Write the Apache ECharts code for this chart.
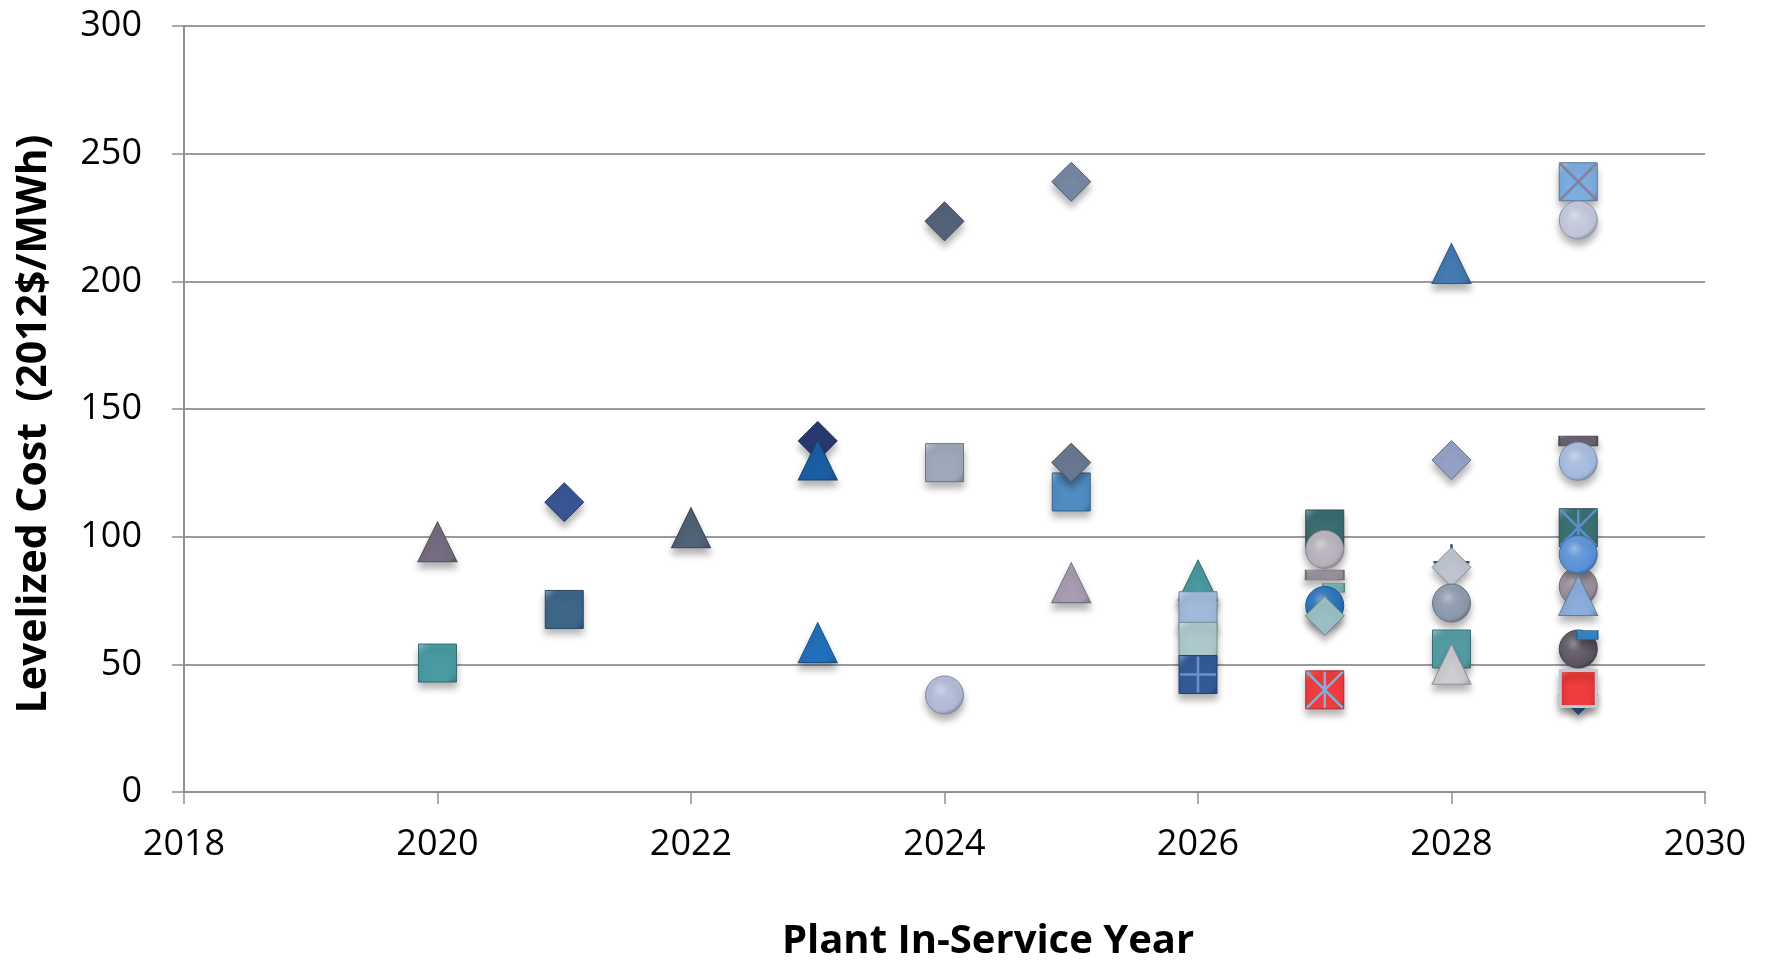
<!DOCTYPE html>
<html>
<head>
<meta charset="utf-8">
<title>Levelized Cost by Plant In-Service Year</title>
<script src="https://cdn.jsdelivr.net/npm/echarts@6/dist/echarts.min.js"></script>
<style>
  html, body { margin: 0; padding: 0; background: #ffffff; }
  #chart { width: 1765px; height: 960px; }
</style>
</head>
<body>
<div id="chart"></div>
<script>
// ---- data -----------------------------------------------------------
// Plant in-service year and levelized cost (2012$/MWh) of each project
const years = [
  2020, 2020, 2021, 2021, 2022, 2023, 2023, 2023,
  2024, 2024, 2024, 2025, 2025, 2025, 2025,
  2026, 2026, 2026, 2026, 2026, 2026,
  2027, 2027, 2027, 2027, 2027, 2027, 2027, 2027,
  2028, 2028, 2028, 2028, 2028, 2028, 2028,
  2029, 2029, 2029, 2029, 2029, 2029, 2029, 2029, 2029, 2029, 2029, 2029, 2029, 2029
];
const costs = [
  98, 50.5, 113.5, 71.5, 103.5, 137.5, 130, 58.5,
  223.5, 129, 38, 239, 117.5, 129, 82,
  75, 83, 71, 59, 46, 46,
  103, 95, 85, 80, 73, 69, 40, 40,
  207, 130, 90, 88, 74, 56, 50,
  239, 239, 224, 137.5, 129.5, 103.5, 103.5, 80.5, 93, 77, 56, 61.5, 38, 40.5
];
const yearTicks = [2018, 2020, 2022, 2024, 2026, 2028, 2030];
const costTicks = [0, 50, 100, 150, 200, 250, 300];

// ---- marker styles (one per project, same order as the data) ----------
const markerShapes = [
  'triangle', 'square', 'diamond', 'square', 'triangle', 'diamond', 'triangle', 'triangle',
  'diamond', 'square', 'circle', 'diamond', 'square', 'diamond', 'triangle',
  'diamond', 'triangle', 'square', 'square', 'square', 'plus',
  'square', 'circle', 'dash', 'shortdash', 'circle', 'diamond', 'square', 'star',
  'triangle', 'diamond', 'plus', 'diamond', 'circle', 'square', 'triangle',
  'square', 'x', 'circle', 'dash', 'circle', 'square', 'star', 'circle', 'circle', 'triangle', 'circle', 'shortdash', 'diamond', 'redsquare'
];
const markerColors = [
  '#776d82', '#4a9aa1', '#3a5594', '#3d6689', '#526377', '#283a70', '#1c5ea6', '#2270bd',
  '#53637a', '#9fa8b9', '#b0b8d6', '#7587a3', '#4f8cc2', '#697891', '#a89db2',
  '#2c4576', '#4a9aa1', '#a0bada', '#adc8cb', '#325b95', '#6d8fd0',
  '#3a6c70', '#b5b0ba', '#96919c', '#77afb5', '#2570bb', '#99bfc4', '#f03c3c', '#7fb0de',
  '#457bb4', '#93a1c6', '#34497a', '#bec4cf', '#8998ab', '#549ca4', '#cdcdd4',
  '#7badde', '#8680a2', '#c0c5d9', '#686272', '#a3b9de', '#3b7073', '#5b8fcc', '#968c9b', '#5790d6', '#8daedb', '#5a5462', '#3584c0', '#365aa2', '#f03c3c'
];

// ---- colour helpers ---------------------------------------------------
function shade(hex, amt) {
  const n = parseInt(hex.slice(1), 16);
  let r = (n >> 16) & 255, g = (n >> 8) & 255, b = n & 255;
  const f = (c) => amt >= 0 ? Math.round(c + (255 - c) * amt) : Math.round(c * (1 + amt));
  r = f(r); g = f(g); b = f(b);
  return 'rgb(' + r + ',' + g + ',' + b + ')';
}
// flat face with a light upper-left rim and a darker lower-right rim
function bevelFill(hex) {
  return new echarts.graphic.LinearGradient(0, 0, 1, 1, [
    { offset: 0, color: shade(hex, 0.45) },
    { offset: 0.12, color: shade(hex, 0.12) },
    { offset: 0.2, color: hex },
    { offset: 0.85, color: hex },
    { offset: 1, color: shade(hex, -0.25) }
  ]);
}
function ballFill(hex) {
  return new echarts.graphic.RadialGradient(0.4, 0.35, 0.7, [
    { offset: 0, color: shade(hex, 0.4) },
    { offset: 0.3, color: shade(hex, 0.1) },
    { offset: 0.8, color: hex },
    { offset: 1, color: shade(hex, -0.3) }
  ]);
}

const SZ = 38;
const shadow = { shadowBlur: 7, shadowOffsetY: 6, shadowColor: 'rgba(0,0,0,0.3)' };

const linePaths = {
  plus: 'path://M5,0L5,10M0,5L10,5',
  x: 'path://M0,0L10,10M10,0L0,10',
  star: 'path://M0,0L10,10M10,0L0,10M5,0L5,10'
};

function solid(style) {
  return Object.assign({ opacity: 1 }, style);
}

function markerSpec(shape, color) {
  if (linePaths[shape]) {
    return {
      symbol: linePaths[shape], symbolSize: 36, symbolOffset: [0, 0],
      itemStyle: solid({ color: 'rgba(0,0,0,0)', borderColor: color, borderWidth: 2.5 })
    };
  }
  if (shape === 'circle') {
    return {
      symbol: 'circle', symbolSize: SZ, symbolOffset: [0, 0],
      itemStyle: solid(Object.assign({ color: ballFill(color), borderColor: shade(color, -0.25), borderWidth: 1 }, shadow))
    };
  }
  if (shape === 'dash') {
    return {
      symbol: 'rect', symbolSize: [SZ, 10], symbolOffset: [0, 0],
      itemStyle: solid(Object.assign({ color: bevelFill(color), borderColor: shade(color, -0.25), borderWidth: 1 }, shadow))
    };
  }
  if (shape === 'shortdash') {
    return {
      symbol: 'rect', symbolSize: [21, 9], symbolOffset: [9, 0],
      itemStyle: solid(Object.assign({ color: bevelFill(color), borderColor: shade(color, -0.25), borderWidth: 1 }, shadow))
    };
  }
  if (shape === 'redsquare') {
    return {
      symbol: 'rect', symbolSize: SZ - 2, symbolOffset: [0, 0],
      itemStyle: solid(Object.assign({ color: bevelFill(color), borderColor: '#c3c8d2', borderWidth: 3 }, shadow))
    };
  }
  const sym = shape === 'square' ? 'rect' : shape;
  let size = SZ;
  if (shape === 'triangle') size = [39, 40];
  if (shape === 'diamond') size = [39, 39];
  return {
    symbol: sym, symbolSize: size, symbolOffset: [0, 0],
    itemStyle: solid(Object.assign({ color: bevelFill(color), borderColor: shade(color, -0.3), borderWidth: 1 }, shadow))
  };
}

// one scatter series per project; later projects are painted over earlier ones
const series = years.map((yr, i) => {
  const spec = markerSpec(markerShapes[i], markerColors[i]);
  return {
    type: 'scatter',
    name: 'Project ' + (i + 1),
    z: 2,
    data: [[yr, costs[i]]],
    symbol: spec.symbol,
    symbolSize: spec.symbolSize,
    symbolOffset: spec.symbolOffset,
    itemStyle: spec.itemStyle,
    emphasis: { disabled: true },
    animation: false
  };
});

const FONT = '"Open Sans", "Noto Sans", "DejaVu Sans", sans-serif';

const chart = echarts.init(document.getElementById('chart'), null, { renderer: 'canvas' });
chart.setOption({
  backgroundColor: '#ffffff',
  animation: false,
  grid: { left: 184, right: 60, top: 26, bottom: 168, containLabel: false },
  xAxis: {
    type: 'value',
    min: yearTicks[0],
    max: yearTicks[yearTicks.length - 1],
    interval: yearTicks[1] - yearTicks[0],
    axisLine: { show: true, lineStyle: { color: '#8f8f8f', width: 2 } },
    axisTick: { show: true, length: 12, inside: false, lineStyle: { color: '#8f8f8f', width: 1.5 } },
    splitLine: { show: false },
    axisLabel: { margin: 35, color: '#000000', fontSize: 36, fontFamily: FONT, formatter: (v) => String(v) }
  },
  yAxis: {
    type: 'value',
    min: costTicks[0],
    max: costTicks[costTicks.length - 1],
    interval: costTicks[1] - costTicks[0],
    axisLine: { show: true, lineStyle: { color: '#8f8f8f', width: 2 } },
    axisTick: { show: true, length: 12, inside: false, lineStyle: { color: '#8f8f8f', width: 1.5 } },
    splitLine: { show: true, lineStyle: { color: '#9b9b9b', width: 2 } },
    axisLabel: { margin: 42, color: '#000000', fontSize: 36, fontFamily: FONT }
  },
  graphic: [
    {
      type: 'text',
      x: 34, y: 424,
      rotation: Math.PI / 2,
      style: {
        text: 'Levelized Cost  (2012$/MWh)',
        fill: '#000000',
        font: 'bold 41px ' + FONT,
        align: 'center',
        verticalAlign: 'middle'
      }
    },
    {
      type: 'text',
      x: 988, y: 942,
      style: {
        text: 'Plant In-Service Year',
        fill: '#000000',
        font: 'bold 40px ' + FONT,
        align: 'center',
        verticalAlign: 'middle'
      }
    }
  ],
  series: series
});
</script>
</body>
</html>
